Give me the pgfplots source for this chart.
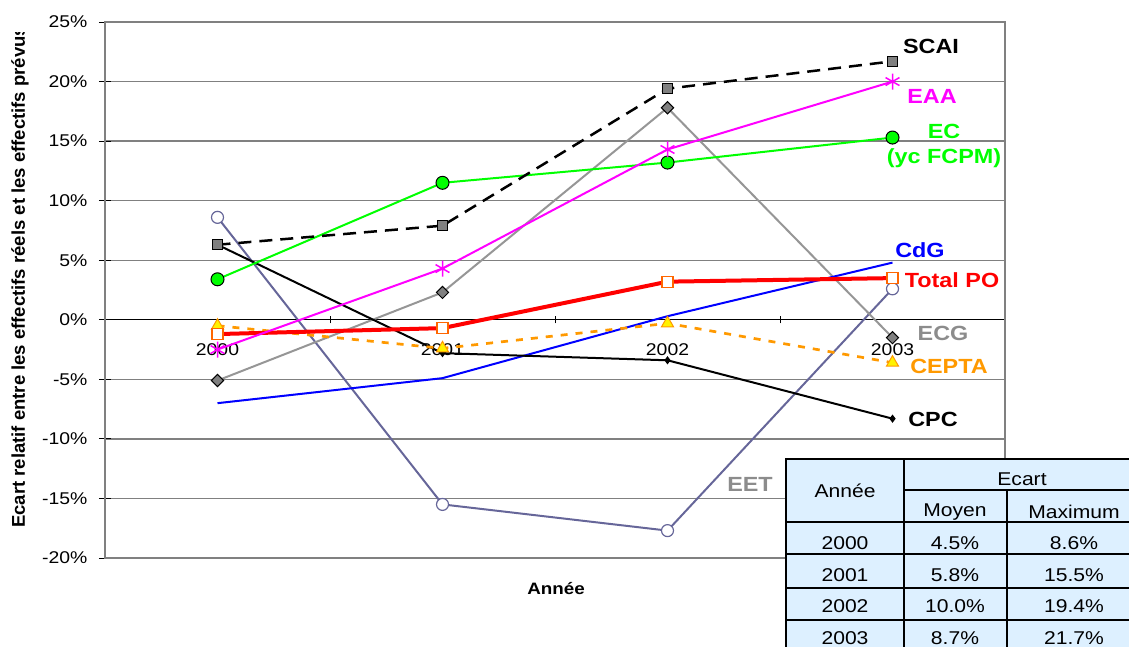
\documentclass[border=0pt]{standalone}
\usepackage{pgfplots}
\pgfplotsset{compat=1.18}
\usepackage{fontspec}
\setmainfont{Liberation Sans}
\usepackage{graphicx}
\newcommand{\hs}[1]{\scalebox{1.14}[1]{#1}}
\definecolor{eet}{RGB}{102,102,153}
\definecolor{ecg}{RGB}{150,150,150}
\definecolor{cepta}{RGB}{255,153,0}
\definecolor{poedge}{RGB}{255,102,0}
\definecolor{gridc}{RGB}{128,128,128}
\definecolor{tabbg}{RGB}{221,240,255}
\definecolor{mkgray}{RGB}{128,128,128}
\definecolor{mgreen}{RGB}{0,255,0}
\definecolor{mmag}{RGB}{255,0,255}
\definecolor{lblgray}{RGB}{140,140,140}

\begin{document}
\begin{tikzpicture}
\path[use as bounding box] (0,0) rectangle (1129pt,-646pt);
\clip (0,0) rectangle (1129pt,-646pt);
\begin{axis}[
  at={(105pt,-558pt)}, anchor=south west,
  width=900pt, height=536pt, scale only axis,
  xmin=-0.5, xmax=3.5, ymin=-20, ymax=25,
  axis x line=middle, axis y line=left,
  axis line style={-},
  x axis line style={black, line width=1.2pt},
  y axis line style={black, line width=1.2pt},
  xtick={0,1,2,3},
  xticklabels={\hs{2000},\hs{2001},\hs{2002},\hs{2003}},
  minor xtick={0.5,1.5,2.5,3.5},
  major x tick style={draw=none},
  minor x tick style={black, line width=1pt},
  minor tick length=7pt,
  ytick={-20,-15,...,25},
  yticklabel={\hs{\pgfmathprintnumber[assume math mode=true]{\tick}\%}},
  ytick style={black, line width=1pt},
  major tick length=12pt,
  tick align=center,
  ticklabel style={font=\fontsize{17}{20}\selectfont},
  xticklabel style={yshift=-14pt},
  yticklabel style={xshift=-8pt},
  ymajorgrids,
  major grid style={gridc, line width=1.3pt},
  clip=false,
]
\draw[gridc, line width=1.3pt] (rel axis cs:0,0) rectangle (rel axis cs:1,1);
% EET
\addplot[eet, line width=2pt, mark=*, mark size=6pt,
  mark options={fill=white, draw=eet, line width=1.2pt}]
  coordinates {(0,8.6) (1,-15.5) (2,-17.7) (3,2.6)};
% ECG
\addplot[ecg, line width=2pt, mark=square*, mark size=4.3pt,
  mark options={rotate=45, fill=mkgray, draw=black, line width=1pt}]
  coordinates {(0,-5.1) (1,2.3) (2,17.8) (3,-1.5)};
% CdG
\addplot[blue, line width=2pt, no marks]
  coordinates {(0,-7.0) (1,-4.9) (2,0.3) (3,4.8)};
% CPC
\addplot[black, line width=2pt, mark=diamond*, mark size=2.5pt]
  coordinates {(0,6.3) (1,-2.8) (2,-3.4) (3,-8.3)};
% CEPTA
\addplot[cepta, line width=2.7pt, dash pattern=on 7pt off 8pt,
  mark=triangle*, mark size=7pt,
  mark options={solid, fill=yellow, draw=cepta, line width=1pt}]
  coordinates {(0,-0.5) (1,-2.4) (2,-0.3) (3,-3.6)};
% Total PO
\addplot[red, line width=4pt, mark=square*, mark size=5.5pt,
  mark options={fill=white, draw=poedge, line width=1.2pt}]
  coordinates {(0,-1.2) (1,-0.7) (2,3.2) (3,3.5)};
% EC
\addplot[mgreen, line width=2pt, mark=*, mark size=6.5pt,
  mark options={fill=mgreen, draw=black, line width=1pt}]
  coordinates {(0,3.4) (1,11.5) (2,13.2) (3,15.3)};
% EAA
\addplot[mmag, line width=2pt, mark=asterisk, mark size=8pt,
  mark options={line width=1.5pt}]
  coordinates {(0,-2.5) (1,4.3) (2,14.3) (3,20.0)};
% SCAI
\addplot[black, line width=2.5pt, dash pattern=on 13pt off 8pt,
  mark=square*, mark size=5pt,
  mark options={solid, fill=mkgray, draw=black, line width=1pt}]
  coordinates {(0,6.3) (1,7.9) (2,19.4) (3,21.7)};
\end{axis}

% series labels
\begin{scope}[every node/.style={font=\bfseries\fontsize{20.5}{23}\selectfont, inner sep=0pt}]
\node[text=black] at (931pt,-46pt) {\hs{SCAI}};
\node[text=mmag] at (932pt,-96pt) {\hs{EAA}};
\node[text=mgreen] at (944pt,-131pt) {\hs{EC}};
\node[text=mgreen] at (944pt,-158pt) {\hs{(yc FCPM)}};
\node[text=blue] at (920pt,-250pt) {\hs{CdG}};
\node[text=red] at (952pt,-280pt) {\hs{Total PO}};
\node[text=lblgray] at (943pt,-333pt) {\hs{ECG}};
\node[text=cepta] at (949pt,-366pt) {\hs{CEPTA}};
\node[text=black] at (933pt,-419pt) {\hs{CPC}};
\node[text=lblgray] at (750pt,-484pt) {\hs{EET}};
\end{scope}

% axis titles
\node[font=\bfseries\fontsize{16.5}{19}\selectfont, inner sep=0pt] at (556pt,-589pt) {\hs{Année}};
\begin{scope}
\clip (0,-32pt) rectangle (60pt,-646pt);
\node[rotate=90, anchor=west, inner sep=0pt, font=\bfseries\fontsize{18.5}{20}\selectfont]
  at (20pt,-528pt) {Ecart relatif entre les effectifs réels et les effectifs prévus};
\end{scope}

% table
\fill[tabbg] (786pt,-459pt) rectangle (1140pt,-660pt);
\draw[line width=1.8pt] (786pt,-459pt) rectangle (1140pt,-660pt);
\draw[line width=1.5pt]
  (904pt,-459pt) -- (904pt,-660pt)
  (1007pt,-490pt) -- (1007pt,-660pt)
  (904pt,-490pt) -- (1140pt,-490pt)
  (786pt,-522pt) -- (1140pt,-522pt)
  (786pt,-554pt) -- (1140pt,-554pt)
  (786pt,-588pt) -- (1140pt,-588pt)
  (786pt,-620pt) -- (1140pt,-620pt);
\begin{scope}[every node/.style={font=\fontsize{18.5}{21}\selectfont, inner sep=0pt}]
\node at (845pt,-491pt) {\hs{Année}};
\node at (1022pt,-479pt) {\hs{Ecart}};
\node at (955pt,-512pt) {\hs{Moyen}};
\node at (1074pt,-512pt) {\hs{Maximum}};
\node at (845pt,-543pt) {\hs{2000}};
\node at (955pt,-543pt) {\hs{4.5\%}};
\node at (1074pt,-543pt) {\hs{8.6\%}};
\node at (845pt,-575pt) {\hs{2001}};
\node at (955pt,-575pt) {\hs{5.8\%}};
\node at (1074pt,-575pt) {\hs{15.5\%}};
\node at (845pt,-606pt) {\hs{2002}};
\node at (955pt,-606pt) {\hs{10.0\%}};
\node at (1074pt,-606pt) {\hs{19.4\%}};
\node at (845pt,-638pt) {\hs{2003}};
\node at (955pt,-638pt) {\hs{8.7\%}};
\node at (1074pt,-638pt) {\hs{21.7\%}};
\end{scope}
\end{tikzpicture}
\end{document}
